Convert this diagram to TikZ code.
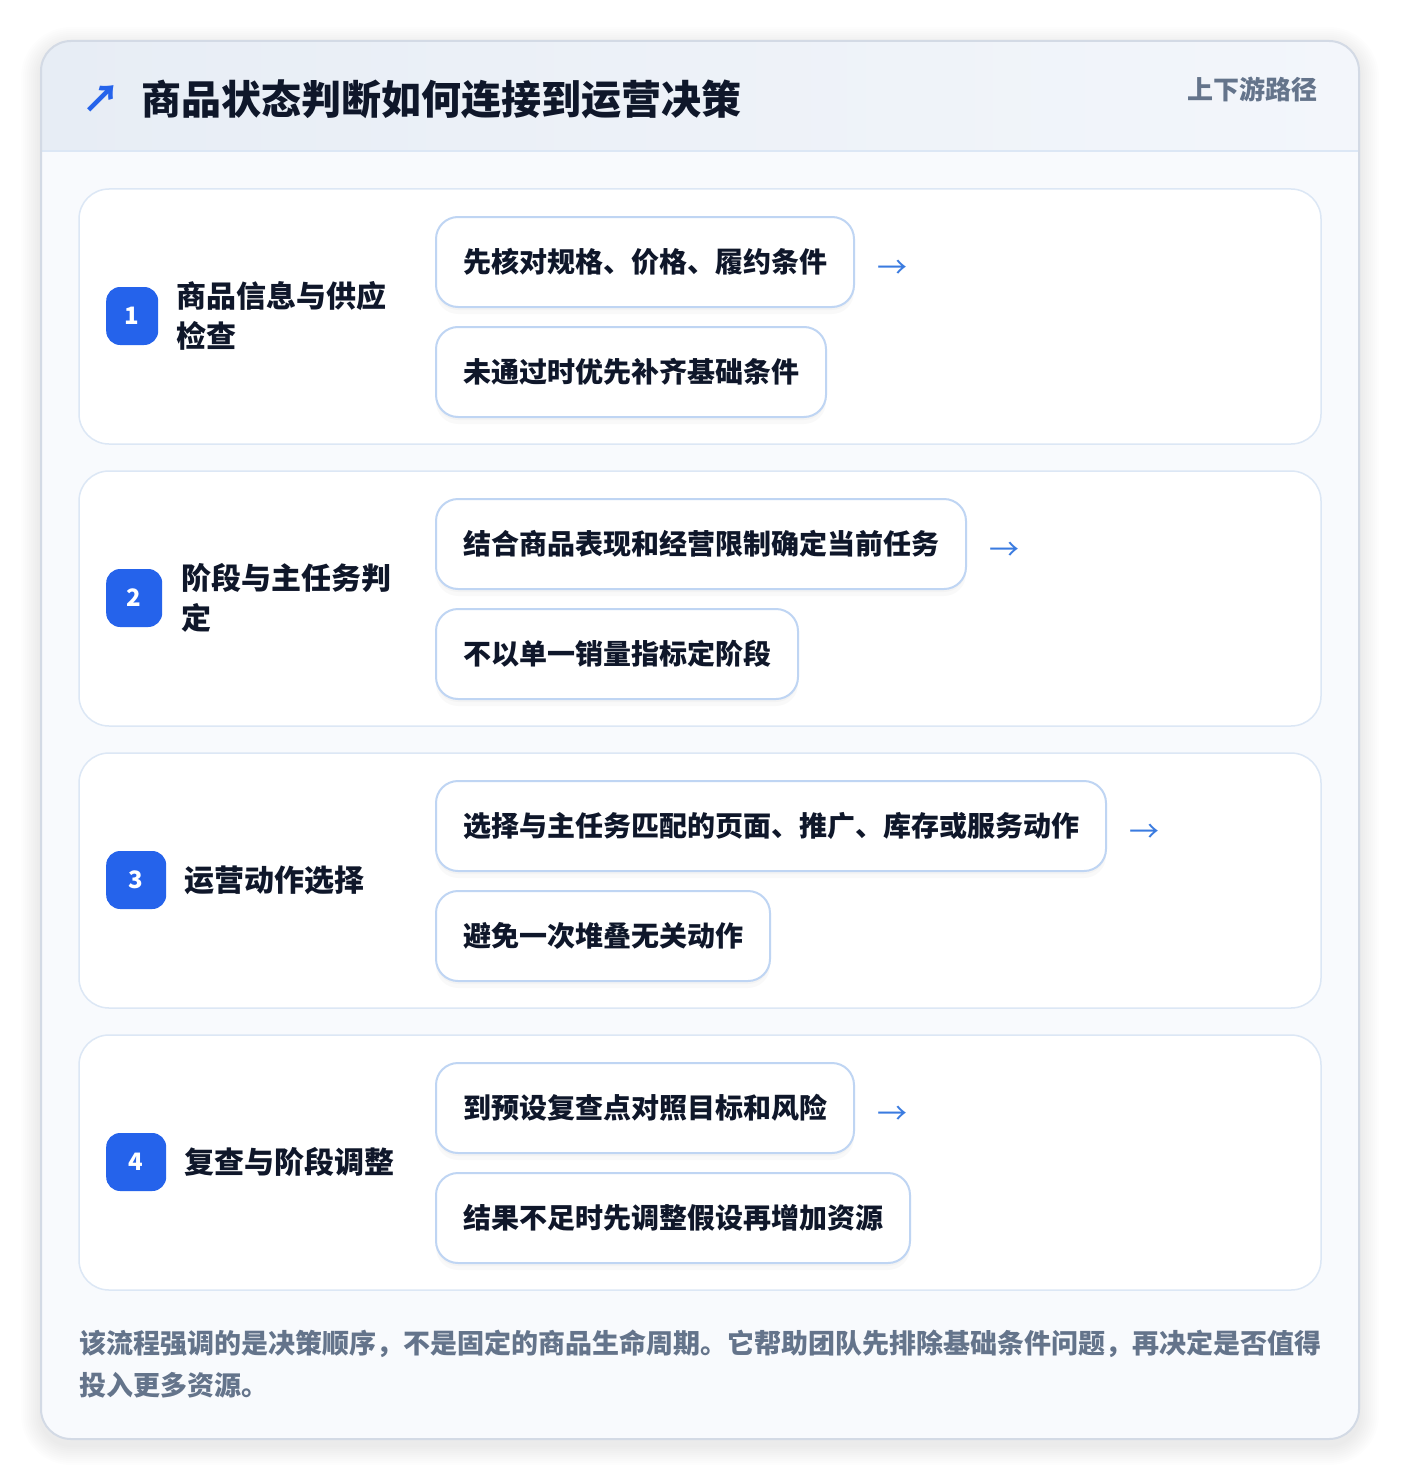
\documentclass[tikz,border=0pt]{standalone}
\usepackage{fontspec}
\setmainfont{Noto Sans CJK SC}
\usetikzlibrary{positioning}

\definecolor{ink}{HTML}{0F172A}
\definecolor{muted}{HTML}{64748B}
\definecolor{accent}{HTML}{2563EB}
\definecolor{arrowblue}{HTML}{3A7BE0}
\definecolor{cardline}{HTML}{DCE7F5}
\definecolor{chipline}{HTML}{BFD5F3}
\definecolor{frameline}{HTML}{D3DAE5}
\definecolor{bodybg}{HTML}{F8FAFD}
\definecolor{headleft}{HTML}{E7EDF5}
\definecolor{headright}{HTML}{F3F6FB}

\tikzset{
  stepcard/.style={draw=cardline, line width=1.5pt, fill=white, rounded corners=30pt},
  badge/.style={fill=accent, rounded corners=14pt, minimum height=58pt, inner sep=0pt,
    text=white, font=\fontsize{24}{24}\selectfont\bfseries},
  steptitle/.style={anchor=west, inner sep=0pt, align=left, text=ink,
    font=\fontsize{30}{40}\selectfont\bfseries},
  chip/.style={draw=chipline, line width=2pt, fill=white, rounded corners=22pt,
    minimum height=90pt, inner xsep=27pt, inner ysep=0pt, anchor=west, text=ink,
    font=\fontsize{28}{28}\selectfont\bfseries,
    preaction={fill=black, opacity=0.025, transform canvas={yshift=-7pt}},
    preaction={fill=black, opacity=0.025, transform canvas={yshift=-3pt}}},
  flowarrow/.style={inner sep=0pt, text=arrowblue, font=\fontsize{30}{30}\selectfont}
}

\begin{document}
\begin{tikzpicture}[x=1pt,y=-1pt]
        \useasboundingbox (0,0) rectangle (1400,1482);
        \fill[white] (0,0) rectangle (1400,1482);

        % Soft shadow of the outer card
        \foreach \k in {2,4,...,20}
          \fill[black, opacity=0.008, rounded corners=30pt+\k pt]
            (41-\k,41-\k+6) rectangle (1359+\k,1439+\k+6);

        % Outer card with header band
        \fill[bodybg, rounded corners=30pt] (41,41) rectangle (1359,1439);
        \begin{scope}
          \clip[rounded corners=30pt] (41,41) rectangle (1359,1439);
          \shade[left color=headleft, right color=headright] (41,41) rectangle (1359,151);
        \end{scope}
        \draw[cardline, line width=1.5pt] (41,151) -- (1359,151);
        \draw[frameline, line width=2pt, rounded corners=30pt] (41,41) rectangle (1359,1439);

        % Header texts
        \node[text=accent, font=\fontsize{38}{38}\selectfont\bfseries, inner sep=0pt] (icon) at (101,99) {↗};
        \node[anchor=west, inner sep=0pt, text=ink, font=\fontsize{40}{40}\selectfont\bfseries]
          (heading) at (141,99) {商品状态判断如何连接到运营决策};
        \node[anchor=east, inner sep=0pt, text=muted, font=\fontsize{26}{26}\selectfont\bfseries]
          (tag) at (1318,89) {上下游路径};

        % Step 1
        \draw[stepcard] (79,189) rectangle (1321,444);
        \node[badge, minimum width=52pt, anchor=west] (badge1) at (106,316) {1};
        \node[steptitle, right=18pt of badge1] (title1) {商品信息与供应\\检查};
        \node[chip] (chip1a) at (435,262) {先核对规格、价格、履约条件};
        \node[chip] (chip1b) at (435,372) {未通过时优先补齐基础条件};
        \node[flowarrow, right=22pt of chip1a, yshift=-7pt] (arr1) {→};

        % Step 2
        \draw[stepcard] (79,471) rectangle (1321,726);
        \node[badge, minimum width=56pt, anchor=west] (badge2) at (106,598) {2};
        \node[steptitle, right=19pt of badge2] (title2) {阶段与主任务判\\定};
        \node[chip] (chip2a) at (435,544) {结合商品表现和经营限制确定当前任务};
        \node[chip] (chip2b) at (435,654) {不以单一销量指标定阶段};
        \node[flowarrow, right=22pt of chip2a, yshift=-7pt] (arr2) {→};

        % Step 3
        \draw[stepcard] (79,753) rectangle (1321,1008);
        \node[badge, minimum width=60pt, anchor=west] (badge3) at (106,880) {3};
        \node[steptitle, right=18pt of badge3] (title3) {运营动作选择};
        \node[chip] (chip3a) at (435,826) {选择与主任务匹配的页面、推广、库存或服务动作};
        \node[chip] (chip3b) at (435,936) {避免一次堆叠无关动作};
        \node[flowarrow, right=22pt of chip3a, yshift=-7pt] (arr3) {→};

        % Step 4
        \draw[stepcard] (79,1035) rectangle (1321,1290);
        \node[badge, minimum width=60pt, anchor=west] (badge4) at (106,1162) {4};
        \node[steptitle, right=18pt of badge4] (title4) {复查与阶段调整};
        \node[chip] (chip4a) at (435,1108) {到预设复查点对照目标和风险};
        \node[chip] (chip4b) at (435,1218) {结果不足时先调整假设再增加资源};
        \node[flowarrow, right=22pt of chip4a, yshift=-7pt] (arr4) {→};

        % Footer note
        \node[anchor=west, inner sep=0pt, align=left, text=muted, font=\fontsize{27}{42}\selectfont\bfseries]
          (note) at (79,1364) {该流程强调的是决策顺序，不是固定的商品生命周期。它帮助团队先排除基础条件问题，再决定是否值得\\投入更多资源。};
\end{tikzpicture}
\end{document}
